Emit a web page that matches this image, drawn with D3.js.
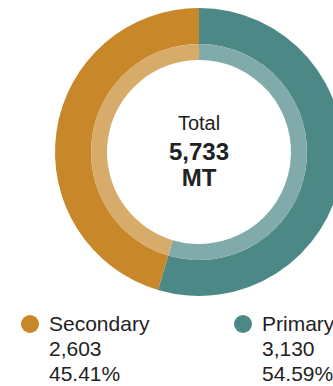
<!DOCTYPE html>
<html>
<head>
<meta charset="utf-8">
<script src="https://cdn.jsdelivr.net/npm/d3@7"></script>
<style>
  html, body { margin: 0; padding: 0; background: #fff; overflow: hidden; }
  svg { display: block; font-family: "Liberation Sans", Arial, sans-serif; }
</style>
</head>
<body>
<svg id="chart" width="333" height="386"></svg>
<script>
// Production split (MT)
const categories = ["Primary", "Secondary"];
const values = [3130, 2603];
const percentLabels = ["54.59%", "45.41%"];
const valueLabels = ["3,130", "2,603"];
const totalLabel = "5,733";
const unitLabel = "MT";

const darkColors = { Primary: "#4c8886", Secondary: "#c8882a" };
const lightColors = { Primary: "#80abaa", Secondary: "#d7ac6a" };

const svg = d3.select("#chart");
const cx = 199, cy = 152;
const rOuter = 144, rMid = 108, rInner = 92;

const data = categories.map((c, i) => ({ name: c, value: values[i] }));
const pie = d3.pie().value(d => d.value).sort(null);
const arcs = pie(data);

const g = svg.append("g").attr("transform", `translate(${cx},${cy})`);

const outerArc = d3.arc().innerRadius(rMid).outerRadius(rOuter);
const innerArc = d3.arc().innerRadius(rInner).outerRadius(rMid);

g.selectAll("path.outer").data(arcs).join("path")
  .attr("class", "outer")
  .attr("d", outerArc)
  .attr("fill", d => darkColors[d.data.name]);

g.selectAll("path.inner").data(arcs).join("path")
  .attr("class", "inner")
  .attr("d", innerArc)
  .attr("fill", d => lightColors[d.data.name]);

// Centre total
g.append("text").attr("x", 0).attr("y", -22).attr("text-anchor", "middle")
  .attr("font-size", 20).attr("fill", "#222").text("Total");
g.append("text").attr("x", 0).attr("y", 8).attr("text-anchor", "middle")
  .attr("font-size", 24).attr("font-weight", "bold").attr("fill", "#222").text(totalLabel);
g.append("text").attr("x", 0).attr("y", 34).attr("text-anchor", "middle")
  .attr("font-size", 24).attr("font-weight", "bold").attr("fill", "#222").text(unitLabel);

// Legend: Secondary on the left, Primary on the right
const legendOrder = ["Secondary", "Primary"];
const legendX = d3.scalePoint().domain(legendOrder).range([30, 243]);

legendOrder.forEach(name => {
  const i = categories.indexOf(name);
  const lg = svg.append("g").attr("transform", `translate(${legendX(name)},0)`);
  lg.append("circle").attr("cx", 0).attr("cy", 324).attr("r", 9)
    .attr("fill", darkColors[name]);
  const lines = [name, valueLabels[i], percentLabels[i]];
  lines.forEach((t, k) => {
    lg.append("text").attr("x", 19).attr("y", 331 + k * 25)
      .attr("font-size", 21).attr("fill", "#222").text(t);
  });
});
</script>
</body>
</html>
